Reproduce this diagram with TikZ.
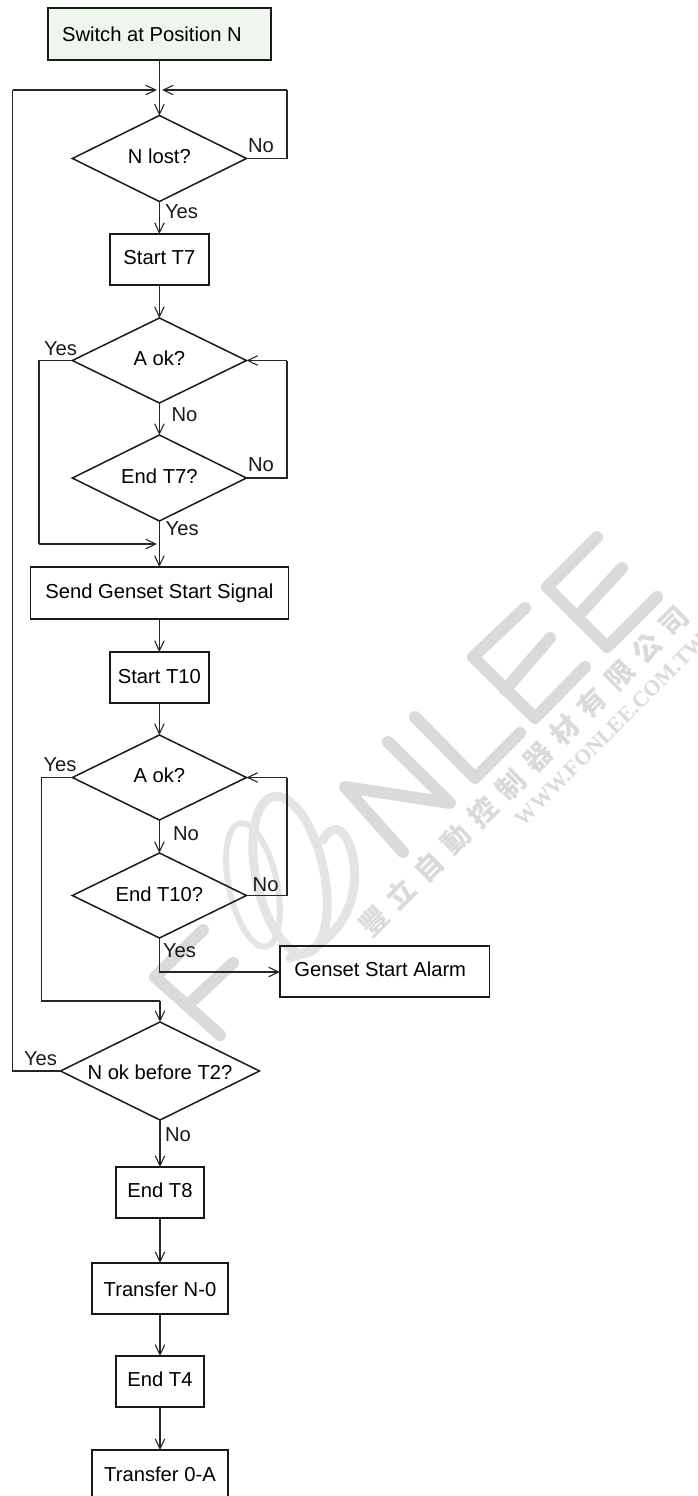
\documentclass[tikz,border=0pt]{standalone}
\usepackage{fontspec}
\setmainfont{Liberation Sans}
\newfontfamily\cjkwm[LetterSpace=38]{Noto Sans CJK TC}
\newfontfamily\serifwm{Liberation Serif}
\usetikzlibrary{arrows.meta,shapes.geometric}
\newcommand{\lowertxt}[2]{\raisebox{-#1pt}{#2}}
\tikzset{
  wmstroke/.style={draw=wmgray,line width=12pt,line cap=round,line join=round},
  wmring/.style={draw=wmlight,line width=9pt,line cap=round},
  flowbox/.style={draw=black!90,line width=1.6pt,rectangle,inner sep=0pt,outer sep=0pt,text height=10pt,text depth=0pt,align=center},
  decision/.style={draw=black!90,line width=1.5pt,diamond,aspect=2,inner sep=0pt,outer sep=0pt,text height=10pt,text depth=0pt,align=center},
  conn/.style={draw=black!85,line width=1.15pt,line join=miter},
  arr/.style={conn,-{Straight Barb[length=10pt,width=9.5pt,line width=1.1pt]}},
  lab/.style={anchor=base west,inner sep=0pt,outer sep=0pt,text=black!90},
  wmtext/.style={text=wmgray,rotate=45,inner sep=0pt}
}
\definecolor{wmgray}{HTML}{DADADA}
\definecolor{wmlight}{HTML}{E4E4E4}
\definecolor{startfill}{HTML}{EFF6EE}
\begin{document}
\begin{tikzpicture}[x=1pt,y=-1pt,every node/.style={font=\fontsize{20.2}{24}\selectfont}]
\useasboundingbox (0,0) rectangle (698,1496);
% watermark
\begin{scope}
\clip (0,0) rectangle (698,1496);
\draw[wmstroke] (597,537) -- (547,587) -- (607,647) -- (657,597);
\draw[wmstroke] (577,617) -- (622,568);
\draw[wmstroke] (525,608) -- (473,657) -- (535,718) -- (585,667);
\draw[wmstroke] (505,690) -- (550,638);
\draw[wmstroke] (415,717) -- (475,778) -- (520,733);
\draw[wmstroke] (403,852) -- (345,787) -- (450,803) -- (388,742);
\draw[wmstroke] (203,930) -- (155,977) -- (220,1035);
\draw[wmstroke] (233,963) -- (190,1003);
\draw[wmring,line width=6pt,rotate around={12:(253,885)}] (253,885) ellipse[x radius=24,y radius=63];
\draw[wmring,rotate around={12:(290,875)}] (290,875) ellipse[x radius=34,y radius=80];
\draw[wmring] (323,840) .. controls (340,810) and (358,850) .. (354,885) .. controls (350,925) and (320,950) .. (290,958);
\node[wmtext,font=\cjkwm\bfseries\fontsize{28}{32}\selectfont] (wmcn) at (524,771) {豐立自動控制器材有限公司};
\node[wmtext,font=\serifwm\bfseries\fontsize{22}{26}\selectfont] (wmen) at (611,730) {WWW.FONLEE.COM.TW};
\end{scope}
% nodes
\node[flowbox,fill=startfill,minimum width=223pt,minimum height=52pt] (sw) at (159.4,34) {\lowertxt{3}{Switch at Position N\hspace{15pt}}};
\node[decision,minimum width=174pt,minimum height=86pt] (nlost) at (159.4,158.5) {N lost?};
\node[flowbox,minimum width=99pt,minimum height=51pt] (st7) at (159.4,259.5) {Start T7};
\node[decision,minimum width=174pt,minimum height=85pt] (aok1) at (159.4,360.5) {A ok?};
\node[decision,minimum width=174pt,minimum height=86pt] (et7) at (159.4,478) {End T7?};
\node[flowbox,minimum width=258pt,minimum height=52pt] (send) at (159.4,593) {Send Genset Start Signal};
\node[flowbox,minimum width=99pt,minimum height=51pt] (st10) at (159.4,677.5) {\lowertxt{1}{Start T10}};
\node[decision,minimum width=174pt,minimum height=85pt] (aok2) at (159.4,777.5) {A ok?};
\node[decision,minimum width=174pt,minimum height=85pt] (et10) at (159.4,895.5) {\lowertxt{1}{End T10?}};
\node[flowbox,minimum width=209.5pt,minimum height=51pt] (alarm) at (384.7,971.5) {Genset Start Alarm\hspace{9pt}};
\node[decision,minimum width=199pt,minimum height=98pt] (nok) at (160,1071) {\lowertxt{3}{N ok before T2?}};
\node[flowbox,minimum width=88pt,minimum height=51pt] (et8) at (160,1192.5) {End T8};
\node[flowbox,minimum width=136pt,minimum height=51pt] (tn0) at (160,1288.5) {\lowertxt{3}{Transfer N-0}};
\node[flowbox,minimum width=88pt,minimum height=51pt] (et4) at (160,1381.5) {End T4};
\node[flowbox,minimum width=136pt,minimum height=51pt] (t0a) at (160,1475.5) {\lowertxt{1}{Transfer 0-A}};
% junctions
\coordinate (jtopl) at (157,90);
\coordinate (jtopr) at (162,90);
\coordinate (jmid) at (157,544);
\coordinate (rail1) at (12.5,0);
\coordinate (rail2) at (39,0);
\coordinate (rail3) at (41.5,0);
\coordinate (rail4) at (287,0);
\coordinate (jlow) at (160,1001);
\coordinate (jal) at (160,972);
% connectors
\draw[arr] (sw.south) -- (nlost.north);
\draw[conn] (nlost.east) -- (nlost.east -| rail4) -- (jtopr -| rail4);
\draw[arr] (jtopr -| rail4) -- (jtopr);
\draw[arr] (nlost.south) -- (st7.north);
\draw[arr] (st7.south) -- (aok1.north);
\draw[arr] (aok1.south) -- (et7.north);
\draw[conn] (aok1.west) -- (aok1.west -| rail2) -- (jmid -| rail2);
\draw[arr] (jmid -| rail2) -- (jmid);
\draw[conn] (et7.east) -- (et7.east -| rail4) -- (aok1.east -| rail4);
\draw[arr] (aok1.east -| rail4) -- (aok1.east);
\draw[arr] (et7.south) -- (send.north);
\draw[arr] (send.south) -- (st10.north);
\draw[arr] (st10.south) -- (aok2.north);
\draw[arr] (aok2.south) -- (et10.north);
\draw[conn] (et10.east) -- (et10.east -| rail4) -- (aok2.east -| rail4);
\draw[arr] (aok2.east -| rail4) -- (aok2.east);
\draw[conn] (aok2.west) -- (aok2.west -| rail3) -- (jlow -| rail3) -- (jlow);
\draw[arr] (jlow) -- (nok.north);
\draw[conn] (et10.south) -- (et10.south |- jal);
\draw[arr] (et10.south |- jal) -- (jal -| alarm.west);
\draw[conn] (nok.west) -- (nok.west -| rail1) -- (jtopl -| rail1);
\draw[arr] (jtopl -| rail1) -- (jtopl);
\draw[arr] (nok.south) -- (et8.north);
\draw[arr] (et8.south) -- (tn0.north);
\draw[arr] (tn0.south) -- (et4.north);
\draw[arr] (et4.south) -- (t0a.north);
% labels
\node[lab] (l1) at (248,152) {No};
\node[lab] (l2) at (165,218) {Yes};
\node[lab] (l3) at (44,355) {Yes};
\node[lab] (l4) at (171.5,421.7) {No};
\node[lab] (l5) at (248,471) {No};
\node[lab] (l6) at (165.7,535.7) {Yes};
\node[lab] (l7) at (43.5,771.7) {Yes};
\node[lab] (l8) at (173,840) {No};
\node[lab] (l9) at (252.7,891) {No};
\node[lab] (l10) at (163,957) {Yes};
\node[lab] (l11) at (24,1065.7) {Yes};
\node[lab] (l12) at (165,1141) {No};
\end{tikzpicture}
\end{document}
